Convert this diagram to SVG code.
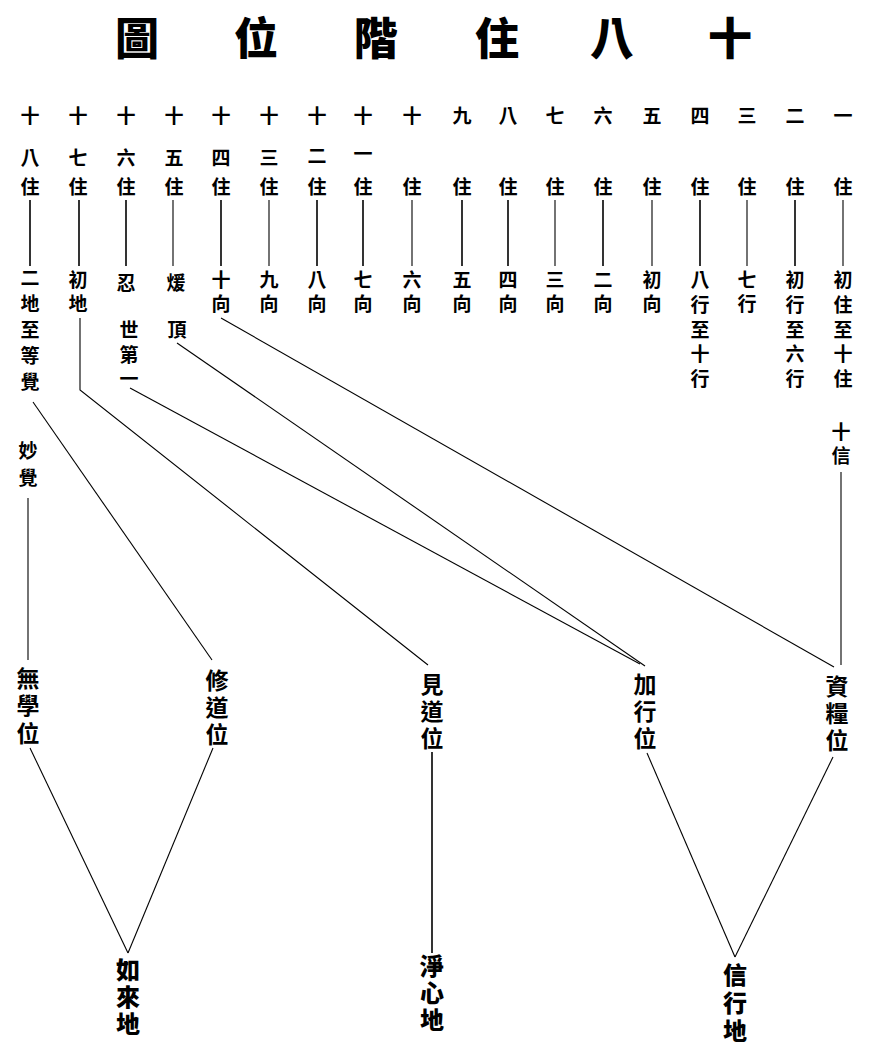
<svg xmlns="http://www.w3.org/2000/svg" width="869" height="1054" viewBox="0 0 869 1054">
<style>
text{font-family:"Noto Sans CJK TC","Noto Sans CJK JP",sans-serif;fill:#000}
.h{text-anchor:middle;dominant-baseline:central}
.vt{writing-mode:vertical-rl;text-anchor:start}
.t{font-size:44px;font-weight:900}
.c{font-size:19px;font-weight:700}
.b{font-size:23px;font-weight:700}
.d{font-size:24px;font-weight:900}
.l{stroke:#000;stroke-width:1.1;fill:none}
.v{stroke:#000;stroke-width:1.6;fill:none}
</style>
<rect width="869" height="1054" fill="#fff"/>
<g id="title">
<text class="t h" x="137" y="36">圖</text>
<text class="t h" x="256" y="36">位</text>
<text class="t h" x="376" y="36">階</text>
<text class="t h" x="497" y="36">住</text>
<text class="t h" x="612" y="36">八</text>
<text class="t h" x="730" y="36">十</text>
</g>
<g id="connectors">
<line class="v" x1="30" y1="200" x2="30" y2="266"/>
<line class="v" x1="79" y1="200" x2="79" y2="266"/>
<line class="v" x1="126" y1="200" x2="126" y2="266"/>
<line class="l" x1="173" y1="200" x2="173" y2="266"/>
<line class="v" x1="221" y1="200" x2="221" y2="266"/>
<line class="l" x1="269" y1="200" x2="269" y2="266"/>
<line class="v" x1="317" y1="200" x2="317" y2="266"/>
<line class="v" x1="363" y1="200" x2="363" y2="266"/>
<line class="l" x1="412" y1="200" x2="412" y2="266"/>
<line class="v" x1="462" y1="200" x2="462" y2="266"/>
<line class="v" x1="508" y1="200" x2="508" y2="266"/>
<line class="l" x1="555" y1="200" x2="555" y2="266"/>
<line class="v" x1="603" y1="200" x2="603" y2="266"/>
<line class="l" x1="652" y1="200" x2="652" y2="266"/>
<line class="v" x1="700" y1="200" x2="700" y2="266"/>
<line class="l" x1="747" y1="200" x2="747" y2="266"/>
<line class="v" x1="795" y1="200" x2="795" y2="266"/>
<line class="l" x1="843" y1="200" x2="843" y2="266"/>
<polyline class="l" points="80,318 80,390 428,665"/>
<line class="l" x1="33" y1="402" x2="212" y2="660"/>
<line class="l" x1="130" y1="388" x2="640" y2="664"/>
<line class="l" x1="177" y1="343" x2="645" y2="666"/>
<line class="l" x1="221" y1="318" x2="834" y2="667"/>
<line class="l" x1="841" y1="472" x2="841" y2="665"/>
<line class="l" x1="28" y1="498" x2="28" y2="660"/>
<line class="l" x1="30" y1="748" x2="128" y2="953"/>
<line class="l" x1="213" y1="748" x2="128" y2="953"/>
<line class="v" x1="432" y1="752" x2="432" y2="953"/>
<line class="l" x1="647" y1="753" x2="735" y2="957"/>
<line class="l" x1="833" y1="757" x2="735" y2="957"/>
</g>
<g id="c18"><text class="c h"><tspan x="30" y="114">十</tspan><tspan x="30" y="156">八</tspan><tspan x="30" y="185">住</tspan></text>
<text class="c vt" x="30" y="268.5" letter-spacing="7">二地至等覺</text></g>
<g id="c17"><text class="c h"><tspan x="78" y="114">十</tspan><tspan x="78" y="156">七</tspan><tspan x="78" y="185">住</tspan></text>
<text class="c vt" x="78" y="270.5" letter-spacing="5">初地</text></g>
<g id="c16"><text class="c h"><tspan x="126" y="114">十</tspan><tspan x="126" y="156">六</tspan><tspan x="126" y="185">住</tspan></text>
<text class="c h" x="126" y="281">忍</text>
<text class="c vt" x="129" y="320.5" letter-spacing="5.5">世第一</text></g>
<g id="c15"><text class="c h"><tspan x="174" y="114">十</tspan><tspan x="174" y="156">五</tspan><tspan x="174" y="185">住</tspan></text>
<text class="c h" x="176" y="281">煖</text><text class="c h" x="177" y="328">頂</text></g>
<g id="c14"><text class="c h"><tspan x="221" y="114">十</tspan><tspan x="221" y="156">四</tspan><tspan x="221" y="185">住</tspan></text>
<text class="c vt" x="221" y="270.5" letter-spacing="5">十向</text></g>
<g id="c13"><text class="c h"><tspan x="269" y="114">十</tspan><tspan x="269" y="156">三</tspan><tspan x="269" y="185">住</tspan></text>
<text class="c vt" x="269" y="270.5" letter-spacing="5">九向</text></g>
<g id="c12"><text class="c h"><tspan x="317" y="114">十</tspan><tspan x="317" y="154">二</tspan><tspan x="317" y="185">住</tspan></text>
<text class="c vt" x="317" y="270.5" letter-spacing="5">八向</text></g>
<g id="c11"><text class="c h"><tspan x="363" y="114">十</tspan><tspan x="363" y="152">一</tspan><tspan x="363" y="185">住</tspan></text>
<text class="c vt" x="363" y="270.5" letter-spacing="5">七向</text></g>
<g id="c10"><text class="c h"><tspan x="412" y="114">十</tspan><tspan x="412" y="185">住</tspan></text>
<text class="c vt" x="412" y="270.5" letter-spacing="5">六向</text></g>
<g id="c9"><text class="c h"><tspan x="462" y="114">九</tspan><tspan x="462" y="185">住</tspan></text>
<text class="c vt" x="462" y="270.5" letter-spacing="5">五向</text></g>
<g id="c8"><text class="c h"><tspan x="508" y="114">八</tspan><tspan x="508" y="185">住</tspan></text>
<text class="c vt" x="508" y="270.5" letter-spacing="5">四向</text></g>
<g id="c7"><text class="c h"><tspan x="555" y="114">七</tspan><tspan x="555" y="185">住</tspan></text>
<text class="c vt" x="555" y="270.5" letter-spacing="5">三向</text></g>
<g id="c6"><text class="c h"><tspan x="603" y="114">六</tspan><tspan x="603" y="185">住</tspan></text>
<text class="c vt" x="603" y="270.5" letter-spacing="5">二向</text></g>
<g id="c5"><text class="c h"><tspan x="652" y="114">五</tspan><tspan x="652" y="185">住</tspan></text>
<text class="c vt" x="652" y="270.5" letter-spacing="5">初向</text></g>
<g id="c4"><text class="c h"><tspan x="700" y="114">四</tspan><tspan x="700" y="185">住</tspan></text>
<text class="c vt" x="700" y="270.5" letter-spacing="5.75">八行至十行</text></g>
<g id="c3"><text class="c h"><tspan x="747" y="114">三</tspan><tspan x="747" y="185">住</tspan></text>
<text class="c vt" x="747" y="270.5" letter-spacing="5">七行</text></g>
<g id="c2"><text class="c h"><tspan x="795" y="114">二</tspan><tspan x="795" y="185">住</tspan></text>
<text class="c vt" x="795" y="270.5" letter-spacing="5.75">初行至六行</text></g>
<g id="c1"><text class="c h"><tspan x="843" y="114">一</tspan><tspan x="843" y="185">住</tspan></text>
<text class="c vt" x="843" y="270.5" letter-spacing="5.75">初住至十住</text>
<text class="c vt" x="841" y="422.5" letter-spacing="5">十信</text></g>
<g id="miaojue"><text class="c vt" x="28" y="441.5" letter-spacing="8">妙覺</text></g>
<g id="wuxuewei"><text class="b vt" x="28" y="666.5" letter-spacing="4.5">無學位</text></g>
<g id="xiudaowei"><text class="b vt" x="217" y="668.5" letter-spacing="4">修道位</text></g>
<g id="jiandaowei"><text class="b vt" x="432" y="672.5" letter-spacing="4">見道位</text></g>
<g id="jiaxingwei"><text class="b vt" x="645" y="672.5" letter-spacing="4">加行位</text></g>
<g id="ziliangwei"><text class="b vt" x="837" y="674.5" letter-spacing="4">資糧位</text></g>
<g id="rulaidi"><text class="d vt" x="128" y="958" letter-spacing="3">如來地</text></g>
<g id="jingxindi"><text class="d vt" x="432" y="954" letter-spacing="3">淨心地</text></g>
<g id="xinxingdi"><text class="d vt" x="735" y="963" letter-spacing="4">信行地</text></g>
</svg>
